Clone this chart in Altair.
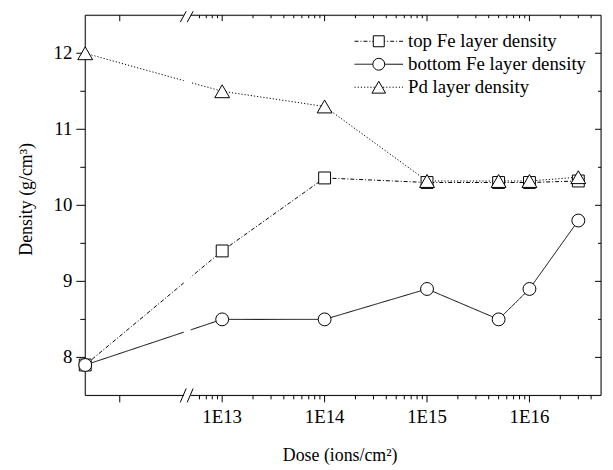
import math
import altair as alt
import pandas as pd

# ---- data ----
SERIES = ["top Fe layer density", "bottom Fe layer density", "Pd layer density"]
# first dose = unirradiated reference, plotted at the start of the (broken) axis
DOSE = [4.6e11, 1e13, 1e14, 1e15, 5e15, 1e16, 3e16]
TOP_FE = [7.9, 9.4, 10.36, 10.3, 10.3, 10.3, 10.32]
BOTTOM_FE = [7.9, 8.5, 8.5, 8.9, 8.5, 8.9, 9.8]
PD = [12.0, 11.5, 11.3, 10.32, 10.32, 10.32, 10.37]

X_DOMAIN = [4.6e11, 5e16]
Y_DOMAIN = [7.5, 12.5]
X_MAJOR = [1e12, 1e13, 1e14, 1e15, 1e16]
X_LABELS = ["", "1E13", "1E14", "1E15", "1E16"]
X_MINOR = [6e12, 7e12, 8e12, 9e12] + [k * 10.0 ** e for e in (13, 14, 15) for k in range(2, 10)] + [2e16, 3e16, 4e16]
Y_MAJOR = [8, 9, 10, 11, 12]
Y_LABELS = ["8", "9", "10", "11", "12"]
Y_MINOR = [8.5, 9.5, 10.5, 11.5]
X_TITLE = "Dose (ions/cm²)"
Y_TITLE = "Density (g/cm³)"

W, H = 521, 384
FONT = "Liberation Serif"
FS = 19

STYLE = {
    SERIES[0]: dict(shape="square", dash=[4, 2, 1, 2], size=144),
    SERIES[1]: dict(shape="circle", dash=[1, 0], size=169),
    SERIES[2]: dict(shape="triangle-up", dash=[1.2, 2], size=225),
}

values = [TOP_FE, BOTTOM_FE, PD]
rows = []
for name, vals in zip(SERIES, values):
    for d, v in zip(DOSE, vals):
        rows.append({"dose": d, "density": v, "series": name})
df = pd.DataFrame(rows)
one = pd.DataFrame({"k": [0]})
xmaj = pd.DataFrame({"dose": X_MAJOR, "label": X_LABELS})
ymaj = pd.DataFrame({"density": Y_MAJOR, "label": Y_LABELS})

# all x ticks in one table, all y ticks in one table
xt = pd.DataFrame({
    "dose": X_MAJOR + X_MINOR + X_MAJOR + X_MINOR,
    "kind": ["bM"] * len(X_MAJOR) + ["bm"] * len(X_MINOR) + ["tM"] * len(X_MAJOR) + ["tm"] * len(X_MINOR),
})
yt = pd.DataFrame({
    "density": Y_MAJOR + Y_MINOR + Y_MAJOR + Y_MINOR,
    "kind": ["lM"] * len(Y_MAJOR) + ["lm"] * len(Y_MINOR) + ["rM"] * len(Y_MAJOR) + ["rm"] * len(Y_MINOR),
})

xs = alt.Scale(type="log", domain=X_DOMAIN, nice=False)
ys = alt.Scale(domain=Y_DOMAIN, nice=False, zero=False)
X = alt.X("dose:Q", scale=xs, axis=None)
Y = alt.Y("density:Q", scale=ys, axis=None)

# tick lengths in pixels converted to data units
ky = (Y_DOMAIN[1] - Y_DOMAIN[0]) / H
L0, L1 = math.log10(X_DOMAIN[0]), math.log10(X_DOMAIN[1])
kx = (L1 - L0) / W
y_start = f"(datum.kind == 'bM' || datum.kind == 'bm') ? {Y_DOMAIN[0]} : {Y_DOMAIN[1]}"
y_end = (f"datum.kind == 'bM' ? {Y_DOMAIN[0] - 7 * ky} : datum.kind == 'bm' ? {Y_DOMAIN[0] - 4 * ky} : "
         f"datum.kind == 'tM' ? {Y_DOMAIN[1] - 6 * ky} : {Y_DOMAIN[1] - 3 * ky}")
x_start = f"(datum.kind == 'lM' || datum.kind == 'lm') ? {X_DOMAIN[0]} : {X_DOMAIN[1]}"
x_end = (f"datum.kind == 'lM' ? pow(10, {L0 - 9 * kx}) : datum.kind == 'lm' ? pow(10, {L0 - 5 * kx}) : "
         f"datum.kind == 'rM' ? pow(10, {L1 - 6 * kx}) : pow(10, {L1 - 3 * kx})")


def rule(**enc):
    return alt.Chart(one).mark_rule(color="black", strokeWidth=1).encode(**enc)


layers = []

# frame
layers += [
    rule(x=alt.value(0), x2=alt.value(W), y=alt.value(0)),      # top
    rule(x=alt.value(0), x2=alt.value(W), y=alt.value(H)),      # bottom
    rule(x=alt.value(0), y=alt.value(0), y2=alt.value(H)),      # left
    rule(x=alt.value(W), y=alt.value(0), y2=alt.value(H)),      # right
]

# ticks
layers.append(
    alt.Chart(xt).transform_calculate(ya=y_start, yb=y_end)
    .mark_rule(color="black", strokeWidth=1)
    .encode(x=X, y=alt.Y("ya:Q", scale=ys, axis=None), y2="yb:Q")
)
layers.append(
    alt.Chart(yt).transform_calculate(xa=x_start, xb=x_end)
    .mark_rule(color="black", strokeWidth=1)
    .encode(y=Y, x=alt.X("xa:Q", scale=xs, axis=None), x2="xb:Q")
)

# tick labels
layers.append(
    alt.Chart(xmaj).mark_text(font=FONT, fontSize=FS, color="black", align="center",
                              baseline="alphabetic")
    .encode(x=X, y=alt.value(H + 28), text="label:N")
)
layers.append(
    alt.Chart(ymaj).mark_text(font=FONT, fontSize=FS, color="black", align="right",
                              baseline="middle")
    .encode(y=Y, x=alt.value(-13), text="label:N")
)

# axis titles
layers.append(
    alt.Chart(one).mark_text(font=FONT, fontSize=18, color="black", align="center",
                             baseline="middle")
    .encode(x=alt.value(W / 2 - 3), y=alt.value(H + 61), text=alt.value(X_TITLE))
)
layers.append(
    alt.Chart(one).mark_text(font=FONT, fontSize=18, color="black", align="center",
                             baseline="middle", angle=270)
    .encode(x=alt.value(-59), y=alt.value(186), text=alt.value(Y_TITLE))
)

# data lines
for name in SERIES:
    st = STYLE[name]
    layers.append(
        alt.Chart(df).transform_filter(alt.datum.series == name)
        .mark_line(color="black", strokeWidth=1, strokeDash=st["dash"])
        .encode(x=X, y=Y)
    )

# axis break: white gap + slashes
layers.append(
    alt.Chart(one).mark_rect(color="white")
    .encode(x=alt.value(99.5), x2=alt.value(106.5), y=alt.value(-4), y2=alt.value(H + 4))
)
for ybase in (0, H):
    for x0 in (96, 103):
        layers.append(
            rule(x=alt.value(x0), x2=alt.value(x0 + 6),
                 y=alt.value(ybase + 7), y2=alt.value(ybase - 7 if ybase else -4))
        )

# data markers
for name in SERIES:
    st = STYLE[name]
    layers.append(
        alt.Chart(df).transform_filter(alt.datum.series == name)
        .mark_point(shape=st["shape"], filled=True, fill="white", stroke="black",
                    strokeWidth=1, size=st["size"], opacity=1)
        .encode(x=X, y=Y)
    )

# legend
for i, name in enumerate(SERIES):
    st = STYLE[name]
    ly = 26.3 + 23.2 * i
    layers.append(
        alt.Chart(one).mark_rule(color="black", strokeWidth=1, strokeDash=st["dash"])
        .encode(x=alt.value(272), x2=alt.value(321), y=alt.value(ly))
    )
    layers.append(
        alt.Chart(one).mark_point(shape=st["shape"], filled=True, fill="white", stroke="black",
                                  strokeWidth=1, size=st["size"] * 0.85, opacity=1)
        .encode(x=alt.value(296.5), y=alt.value(ly))
    )
    layers.append(
        alt.Chart(one).mark_text(align="left", baseline="middle", font=FONT, fontSize=FS,
                                 color="black")
        .encode(x=alt.value(326), y=alt.value(ly), text=alt.value(name))
    )

chart = (
    alt.layer(*layers)
    .properties(width=W, height=H,
                padding={"left": 78, "top": 5, "right": 4, "bottom": 70},
                autosize=alt.AutoSizeParams(type="none"))
    .configure_view(stroke=None)
    .configure(background="white")
)

chart.save("out.html", embed_options={"renderer": "svg", "actions": False})
